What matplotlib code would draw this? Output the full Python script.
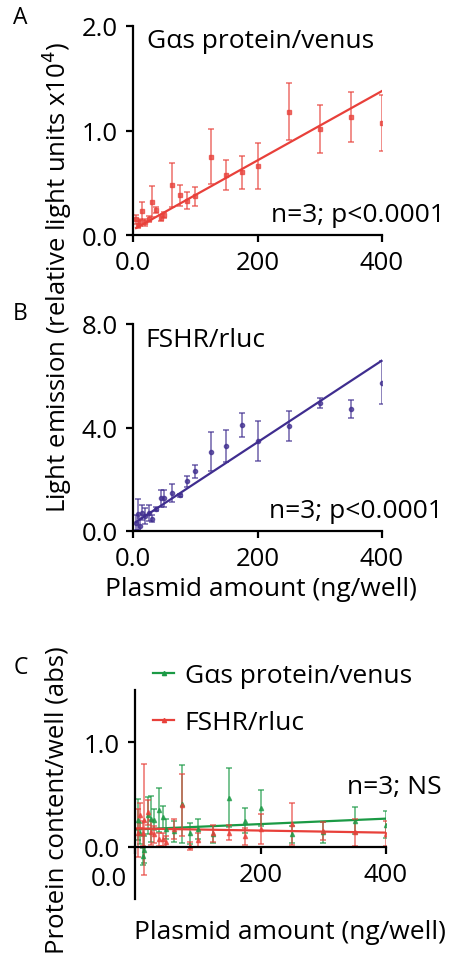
import matplotlib
matplotlib.use("Agg")
import matplotlib.pyplot as plt
from matplotlib.lines import Line2D
import numpy as np

plt.rcParams["font.family"] = ["Open Sans", "DejaVu Sans"]

RED = "#e8403a"
BLUE = "#3f2d8f"
GREEN = "#1b9a45"

# plasmid amounts (ng/well)
dose = [5, 8, 12, 15, 20, 25, 30, 37.5, 45, 50, 62.5, 75, 87.5, 100,
        125, 150, 175, 200, 250, 300, 350, 400]

# panel A: Gas protein/venus light emission (x10^4)
venus_mean = [0.15, 0.10, 0.12, 0.23, 0.12, 0.15, 0.32, 0.24, 0.16, 0.19, 0.48,
              0.38, 0.33, 0.37, 0.75, 0.575, 0.60, 0.66, 1.18, 1.01, 1.13, 1.07]
venus_err = [0.04, 0.03, 0.03, 0.09, 0.03, 0.03, 0.15, 0.03, 0.03, 0.03, 0.21,
             0.10, 0.08, 0.09, 0.26, 0.14, 0.16, 0.22, 0.27, 0.23, 0.24, 0.27]
venus_fit = (0.05, 0.00332)   # intercept, slope

# panel B: FSHR/rluc light emission (x10^4)
rluc_mean = [0.32, 0.64, 0.20, 0.71, 0.58, 0.70, 0.48, 0.84, 1.26, 1.26, 1.47,
             1.38, 1.92, 2.30, 3.06, 3.29, 4.10, 3.47, 4.06, 4.95, 4.72, 5.73]
rluc_err = [0.30, 0.60, 0.30, 0.30, 0.30, 0.30, 0.12, 0.08, 0.34, 0.34, 0.36,
            0.05, 0.22, 0.26, 0.76, 0.63, 0.46, 0.77, 0.59, 0.20, 0.35, 0.84]
rluc_fit = (0.27, 0.0158)

# panel C: protein content/well (abs)
prot_venus = [0.26, 0.13, -0.09, -0.03, 0.30, 0.27, 0.26, 0.35, 0.28, 0.17, 0.15,
              0.41, 0.13, 0.17, 0.12, 0.47, 0.25, 0.37, 0.12, 0.14, 0.25, 0.21]
prot_venus_err = [0.20, 0.10, 0.08, 0.13, 0.18, 0.22, 0.10, 0.21, 0.11, 0.10, 0.10,
                  0.37, 0.10, 0.10, 0.08, 0.28, 0.12, 0.17, 0.08, 0.10, 0.13, 0.13]
prot_rluc = [0.13, 0.30, 0.13, 0.26, 0.33, 0.14, 0.12, 0.07, 0.07, 0.05, 0.17,
             0.40, 0.005, 0.065, 0.13, 0.135, 0.10, 0.17, 0.22, 0.15, 0.14, 0.125]
prot_rluc_err = [0.23, 0.12, 0.12, 0.53, 0.12, 0.12, 0.08, 0.06, 0.06, 0.05, 0.10,
                 0.30, 0.04, 0.07, 0.08, 0.07, 0.08, 0.14, 0.20, 0.09, 0.13, 0.12]
prot_venus_fit = (0.165, 0.00026)
prot_rluc_fit = (0.175, -0.0001)

FS = 19       # annotations
TFS = 18.5    # tick labels
YFS = 18.5    # y labels


def px(x, y):
    return x / 451, 1 - y / 954


def style_axes(ax):
    for side in ("top", "right"):
        ax.spines[side].set_visible(False)
    for side in ("left", "bottom"):
        ax.spines[side].set_linewidth(1.6)
    ax.tick_params(width=1.6, length=5, labelsize=TFS, pad=6)


def scatter_fit(ax, y, err, fit, color, marker, x0):
    ax.errorbar(dose, y, yerr=err, fmt=marker, ms=3, color=color, ecolor=color,
                elinewidth=1.1, capsize=2, capthick=1.1, alpha=0.75)
    xs = np.array([x0, 400])
    ax.plot(xs, fit[0] + fit[1] * xs, color=color, lw=1.6)


fig = plt.figure(figsize=(4.51, 9.54), dpi=100)

# ── panel A ──────────────────────────────────────────────────────────────────
axA = fig.add_axes([133 / 451, 1 - 236 / 954, 249 / 451, 209 / 954])
scatter_fit(axA, venus_mean, venus_err, venus_fit, RED, "s", 5)
axA.set_xlim(0, 400)
axA.set_ylim(0, 2.0)
axA.set_xticks([0, 200, 400], ["0.0", "200", "400"])
axA.set_yticks([0, 1, 2], ["0.0", "1.0", "2.0"])
style_axes(axA)
axA.text(0.056, 0.99, "G\u03b1s protein/venus", transform=axA.transAxes,
         fontsize=FS, va="top")
axA.text(1.253, 0.067, "n=3; p<0.0001", transform=axA.transAxes,
         fontsize=FS, ha="right", va="baseline")

# ── panel B ──────────────────────────────────────────────────────────────────
axB = fig.add_axes([133 / 451, 1 - 532 / 954, 249 / 451, 207 / 954])
scatter_fit(axB, rluc_mean, rluc_err, rluc_fit, BLUE, "o", 5)
axB.set_xlim(0, 400)
axB.set_ylim(0, 8.0)
axB.set_xticks([0, 200, 400], ["0.0", "200", "400"])
axB.set_yticks([0, 4, 8], ["0.0", "4.0", "8.0"])
style_axes(axB)
axB.text(0.048, 0.985, "FSHR/rluc", transform=axB.transAxes,
         fontsize=FS, va="top")
axB.text(1.245, 0.068, "n=3; p<0.0001", transform=axB.transAxes,
         fontsize=FS, ha="right", va="baseline")
fig.text(*px(261, 590), "Plasmid amount (ng/well)", fontsize=FS,
         ha="center", va="center")

# ── panel C ──────────────────────────────────────────────────────────────────
axC = fig.add_axes([135 / 451, 1 - 900 / 954, 251 / 451, 209 / 954])
scatter_fit(axC, prot_venus, prot_venus_err, prot_venus_fit, GREEN, "^", 0)
scatter_fit(axC, prot_rluc, prot_rluc_err, prot_rluc_fit, RED, "^", 0)
axC.set_xlim(0, 400)
axC.set_ylim(-0.5, 1.5)
axC.spines["bottom"].set_position(("data", 0))
axC.set_xticks([0, 200, 400], ["", "200", "400"])
axC.set_yticks([0, 1], ["0.0", "1.0"])
style_axes(axC)
axC.text(1.223, 0.505, "n=3; NS", transform=axC.transAxes,
         fontsize=FS, ha="right", va="baseline")
fig.text(*px(109, 880), "0.0", fontsize=TFS, ha="center", va="center")
fig.text(*px(290, 933), "Plasmid amount (ng/well)", fontsize=FS,
         ha="center", va="center")

handles = [Line2D([], [], color=GREEN, marker="^", ms=3, lw=1.6),
           Line2D([], [], color=RED, marker="^", ms=3, lw=1.6)]
fig.legend(handles, ["G\u03b1s protein/venus", "FSHR/rluc"], loc="upper left",
           bbox_to_anchor=px(153, 664), frameon=False, borderpad=0,
           borderaxespad=0, fontsize=FS, handlelength=0.8,
           handletextpad=0.4, labelspacing=0.85)

# shared y labels and panel letters
fig.text(*px(57, 277), "Light emission (relative light units x10$^4$)",
         rotation=90, fontsize=YFS, ha="center", va="center")
fig.text(*px(57, 800), "Protein content/well (abs)",
         rotation=90, fontsize=YFS, ha="center", va="center")
for lab, (lx, ly) in {"A": (20, 18), "B": (20, 314), "C": (21, 668)}.items():
    fig.text(*px(lx, ly), lab, fontsize=16.5, ha="center", va="center")

fig.savefig("out.png", dpi=100)
